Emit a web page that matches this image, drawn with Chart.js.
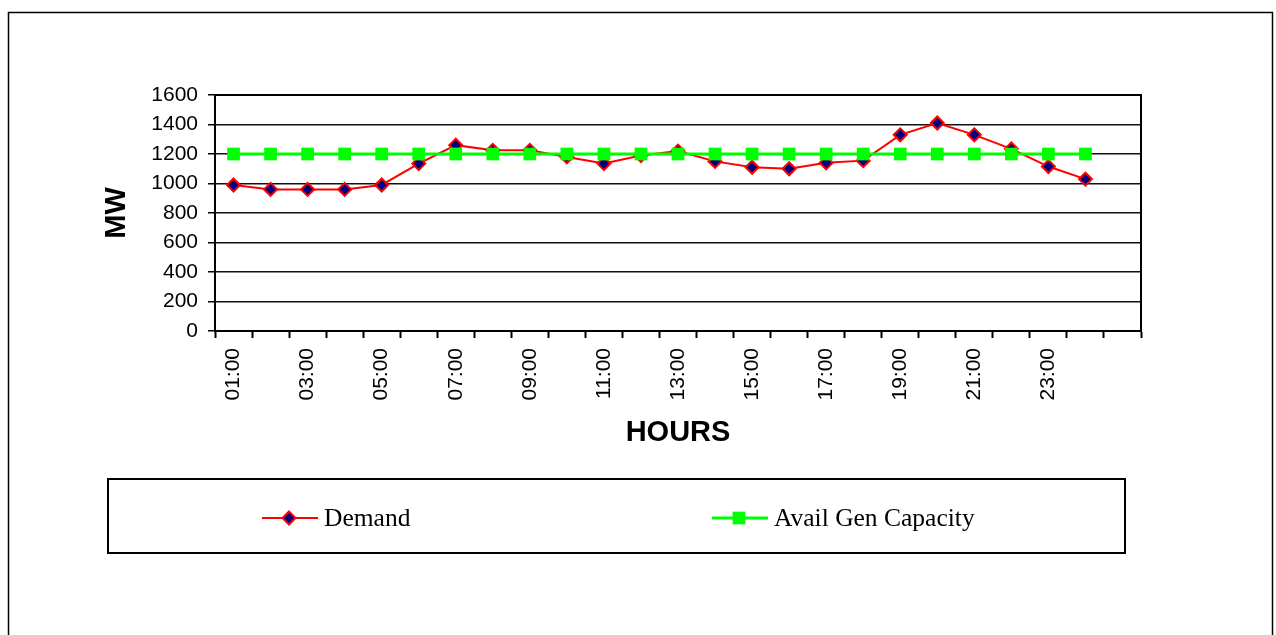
<!DOCTYPE html>
<html>
<head>
<meta charset="utf-8">
<script src="https://cdn.jsdelivr.net/npm/chart.js@4.4.1/dist/chart.umd.min.js"></script>
<style>
    html, body { margin: 0; padding: 0; background: #fff; }
    #wrap { width: 1276px; height: 635px; position: relative; }
</style>
</head>
<body>
<div id="wrap"><canvas id="chart" width="1276" height="635"></canvas></div>
<script>
// hourly categories, the last slot is an empty one like in the sheet
const hours = ['01:00', '02:00', '03:00', '04:00', '05:00', '06:00', '07:00', '08:00',
    '09:00', '10:00', '11:00', '12:00', '13:00', '14:00', '15:00', '16:00',
    '17:00', '18:00', '19:00', '20:00', '21:00', '22:00', '23:00', '24:00', ''];

const demand = [990, 960, 960, 960, 990, 1135, 1260, 1225, 1225, 1180, 1135, 1190,
    1220, 1150, 1110, 1100, 1140, 1155, 1330, 1410, 1330, 1235, 1115, 1030];

const availGenCapacity = [1200, 1200, 1200, 1200, 1200, 1200, 1200, 1200, 1200, 1200, 1200, 1200,
    1200, 1200, 1200, 1200, 1200, 1200, 1200, 1200, 1200, 1200, 1200, 1200];

const yTicks = [0, 200, 400, 600, 800, 1000, 1200, 1400, 1600];

const sansFont = '"Liberation Sans", Arial, sans-serif',
    serifFont = '"Liberation Serif", "Times New Roman", serif';

// page frame, plot frame and the boxed legend
const framePlugin = {
    id: 'frame',
    beforeDraw(chart) {
        const ctx = chart.ctx;
        ctx.save();
        ctx.fillStyle = '#fff';
        ctx.fillRect(0, 0, chart.width, chart.height);
        ctx.strokeStyle = '#000';
        ctx.lineWidth = 1.5;
        ctx.strokeRect(8.5, 12.5, 1264, 640);
        ctx.restore();
    },
    afterDatasetsDraw(chart) {
        const ctx = chart.ctx,
            area = chart.chartArea;

        ctx.save();
        ctx.strokeStyle = '#000';
        ctx.lineWidth = 2;
        ctx.beginPath();
        ctx.moveTo(area.left, area.top);
        ctx.lineTo(area.right, area.top);
        ctx.lineTo(area.right, area.bottom);
        ctx.stroke();

        // legend box
        ctx.lineWidth = 2;
        ctx.strokeRect(108, 479, 1017, 74);

        const items = [
            {ds: chart.data.datasets[0], x: 262},
            {ds: chart.data.datasets[1], x: 712}
        ];
        const y = 518;

        for (const item of items) {
            const ds = item.ds;
            ctx.strokeStyle = ds.borderColor;
            ctx.lineWidth = ds.borderWidth;
            ctx.beginPath();
            ctx.moveTo(item.x, y);
            ctx.lineTo(item.x + 56, y);
            ctx.stroke();

            const cx = item.x + 27;
            ctx.fillStyle = ds.pointBackgroundColor;
            ctx.strokeStyle = ds.pointBorderColor;
            ctx.lineWidth = ds.pointBorderWidth;
            ctx.beginPath();
            if (ds.pointStyle === 'rectRot') {
                const r = ds.pointRadius;
                ctx.moveTo(cx, y - r);
                ctx.lineTo(cx + r, y);
                ctx.lineTo(cx, y + r);
                ctx.lineTo(cx - r, y);
                ctx.closePath();
            }
            else {
                const s = ds.pointRadius * Math.SQRT1_2;
                ctx.rect(cx - s, y - s, 2 * s, 2 * s);
            }
            ctx.fill();
            if (ds.pointBorderWidth > 0) {
                ctx.stroke();
            }

            ctx.fillStyle = '#000';
            ctx.font = '25.5px ' + serifFont;
            ctx.textBaseline = 'middle';
            ctx.textAlign = 'left';
            ctx.fillText(ds.label, item.x + 62, y + 1);
        }
        ctx.restore();
    }
};

new Chart(document.getElementById('chart'), {
    type: 'line',
    data: {
        labels: hours,
        datasets: [
            {
                label: 'Demand',
                data: demand,
                order: 1,
                borderColor: '#ff0000',
                borderWidth: 2,
                pointStyle: 'rectRot',
                pointRadius: 6.5,
                pointBackgroundColor: '#000080',
                pointBorderColor: '#ff0000',
                pointBorderWidth: 2,
                tension: 0,
                fill: false
            },
            {
                label: 'Avail Gen Capacity',
                data: availGenCapacity,
                order: 0,
                borderColor: '#00ff00',
                borderWidth: 3,
                pointStyle: 'rect',
                pointRadius: 9,
                pointBackgroundColor: '#00ff00',
                pointBorderColor: '#00ff00',
                pointBorderWidth: 0,
                tension: 0,
                fill: false
            }
        ]
    },
    options: {
        responsive: false,
        animation: false,
        devicePixelRatio: 1,
        layout: {
            padding: {left: 100, top: 95, right: 135, bottom: 185}
        },
        plugins: {
            legend: {display: false},
            tooltip: {enabled: false},
            title: {display: false}
        },
        scales: {
            x: {
                type: 'category',
                offset: true,
                afterFit: scale => { scale.height = 119; },
                grid: {
                    offset: true,
                    drawOnChartArea: false,
                    drawTicks: true,
                    tickLength: 7,
                    tickColor: '#000',
                    tickWidth: 2
                },
                border: {display: true, color: '#000', width: 2},
                ticks: {
                    autoSkip: false,
                    maxRotation: 90,
                    minRotation: 90,
                    padding: 10,
                    color: '#000',
                    font: {family: sansFont, size: 21},
                    callback: (value, index) => (index % 2 === 0 ? hours[index] : '')
                },
                title: {
                    display: true,
                    text: 'HOURS',
                    color: '#000',
                    padding: 0,
                    font: {family: sansFont, size: 29, weight: 'bold'}
                }
            },
            y: {
                min: yTicks[0],
                max: yTicks[yTicks.length - 1],
                afterFit: scale => { scale.width = 115; },
                afterBuildTicks: scale => {
                    scale.ticks = yTicks.map(v => ({value: v}));
                },
                grid: {
                    color: '#111',
                    lineWidth: 1.5,
                    tickLength: 7,
                    tickColor: '#000'
                },
                border: {display: true, color: '#000', width: 2},
                ticks: {
                    padding: 10,
                    color: '#000',
                    font: {family: sansFont, size: 21},
                    callback: value => String(value)
                },
                title: {
                    display: true,
                    text: 'MW',
                    color: '#000',
                    padding: 0,
                    font: {family: sansFont, size: 29, weight: 'bold'}
                }
            }
        }
    },
    plugins: [framePlugin]
});
</script>
</body>
</html>
